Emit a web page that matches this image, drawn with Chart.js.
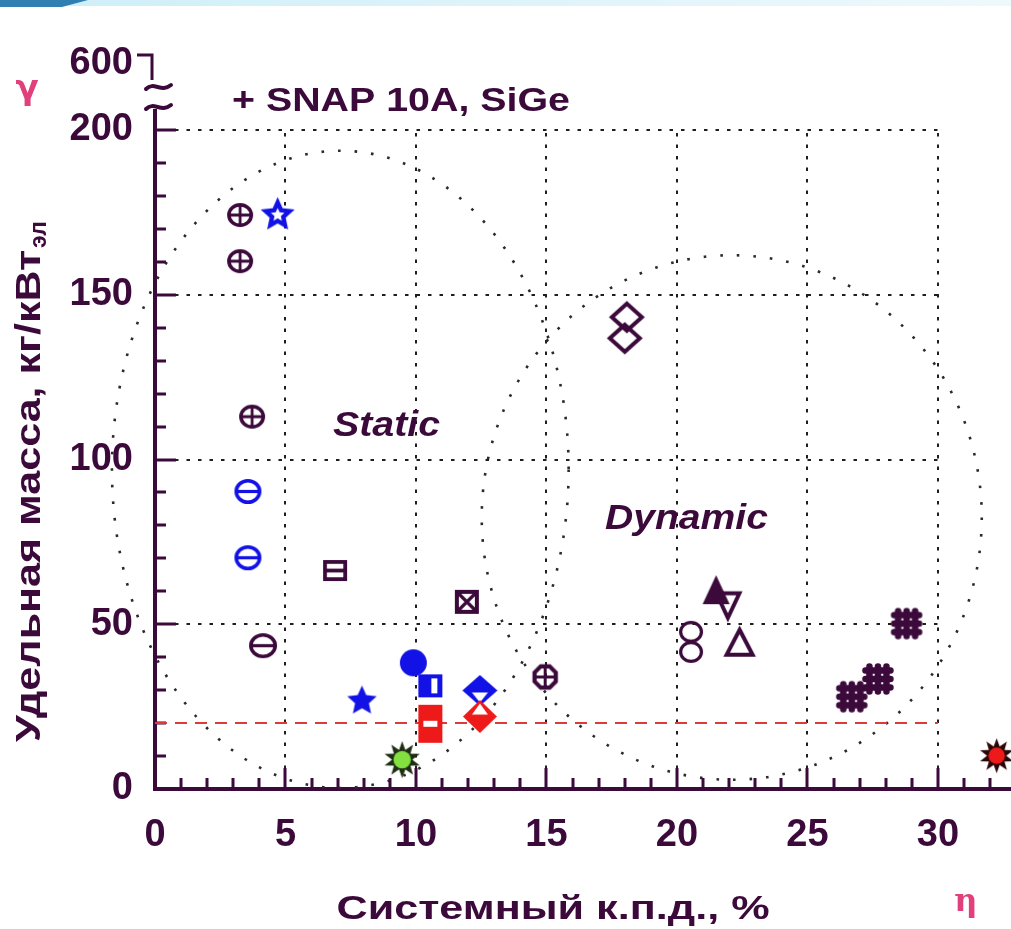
<!DOCTYPE html>
<html><head><meta charset="utf-8">
<script src="https://cdn.jsdelivr.net/npm/chart.js@4.4.1/dist/chart.umd.min.js"></script>
<style>html,body{margin:0;padding:0;background:#fff;}canvas{display:block;}</style>
</head><body>
<canvas id="c" width="1011" height="929"></canvas>
<script>
// ---------- data ----------
const xTickValues = [0, 5, 10, 15, 20, 25, 30];
const yTickValues = [0, 50, 100, 150, 200];
const xGridValues = [5, 10, 15, 20, 25, 30];
const yGridValues = [50, 100, 150, 200];
const yBreakLabel = '600';

const circlePlusX = [3.26, 3.26, 3.72];
const circlePlusY = [174.2, 160.2, 113];
const octPlusX = [14.95];
const octPlusY = [34];
const blueOpenStarX = [4.7];
const blueOpenStarY = [174.2];
const blueCircleMinusX = [3.56, 3.56];
const blueCircleMinusY = [90.3, 70.2];
const darkCircleMinusX = [4.14];
const darkCircleMinusY = [43.5];
const squareMinusX = [6.9];
const squareMinusY = [66.3];
const squareCrossX = [11.95];
const squareCrossY = [56.8];
const blueStarX = [7.93];
const blueStarY = [26.7];
const blueDotX = [9.9];
const blueDotY = [38.3];
const blueHalfSquareX = [10.55];
const blueHalfSquareY = [31.3];
const redBarX = [10.55];
const redBarY = [19.8];
const blueDiamondX = [12.45];
const blueDiamondY = [29.9];
const redDiamondX = [12.45];
const redDiamondY = [22.0];
const greenBurstX = [9.47];
const greenBurstY = [8.9];
const redBurstX = [32.25];
const redBurstY = [10.1];
const openDiamondX = [18.08, 18.0];
const openDiamondY = [143.2, 136.8];
const filledTriX = [21.5];
const filledTriY = [60.5];
const triDownX = [21.95];
const triDownY = [55.9];
const triUpX = [22.4];
const triUpY = [44.4];
const openCircleX = [20.54, 20.54];
const openCircleY = [47.7, 41.6];
const hashX = [26.7, 27.7, 28.8];
const hashY = [28, 33.4, 50.2];
const limitLineX = [0, 30];
const limitLineY = [20, 20];

const staticZone = {cx: 7.1, cy: 97, rx: 8.75, ry: 96.7};
const dynamicZone = {cx: 22.1, cy: 82.4, rx: 9.58, ry: 79.6};

// ---------- styles ----------
const DARK = '#3b0a3b', BLUE = '#1212e6', RED = '#ee1a1a', GREEN = '#82e040', PINK = '#e0407c';
const FONT = "'Liberation Sans', Arial, sans-serif";

function makeMarker(w, h, fn) {
  const c = document.createElement('canvas');
  c.width = Math.ceil(w + 10); c.height = Math.ceil(h + 10);
  const g = c.getContext('2d');
  g.translate(c.width / 2, c.height / 2);
  fn(g, w / 2, h / 2);
  return c;
}
function starPath(g, n, ro, ri, rot) {
  g.beginPath();
  for (let i = 0; i < 2 * n; i++) {
    const r = i % 2 ? ri : ro;
    const a = -Math.PI / 2 + i * Math.PI / n + (rot || 0);
    const px = Math.cos(a) * r, py = Math.sin(a) * r;
    i ? g.lineTo(px, py) : g.moveTo(px, py);
  }
  g.closePath();
}
const mCirclePlus = makeMarker(26, 24, (g, a, b) => {
  g.strokeStyle = DARK; g.lineWidth = 3.6;
  g.beginPath(); g.ellipse(0, 0, a - 1.8, b - 1.8, 0, 0, Math.PI * 2); g.stroke();
  g.lineWidth = 2.8; g.beginPath(); g.moveTo(-a + 2, 0); g.lineTo(a - 2, 0); g.moveTo(0, -b + 2); g.lineTo(0, b - 2); g.stroke();
});
const mOctPlus = makeMarker(27, 27, (g, a, b) => {
  g.strokeStyle = DARK; g.lineWidth = 4.2;
  g.beginPath();
  for (let i = 0; i < 8; i++) { const t = Math.PI / 8 + i * Math.PI / 4; const px = Math.cos(t) * (a - 2), py = Math.sin(t) * (b - 2); i ? g.lineTo(px, py) : g.moveTo(px, py); }
  g.closePath(); g.stroke();
  g.lineWidth = 3; g.beginPath(); g.moveTo(-a + 3, 0); g.lineTo(a - 3, 0); g.moveTo(0, -b + 3); g.lineTo(0, b - 3); g.stroke();
});
function circleMinus(color, w, h) {
  return makeMarker(w, h, (g, a, b) => {
    g.strokeStyle = color; g.lineWidth = 3.6;
    g.beginPath(); g.ellipse(0, 0, a - 1.8, b - 1.8, 0, 0, Math.PI * 2); g.stroke();
    g.lineWidth = 3.2; g.beginPath(); g.moveTo(-a + 2, 0); g.lineTo(a - 2, 0); g.stroke();
  });
}
const mBlueCircleMinus = circleMinus(BLUE, 27, 25);
const mDarkCircleMinus = circleMinus(DARK, 28, 25);
const mSquareMinus = makeMarker(24, 21, (g, a, b) => {
  g.strokeStyle = DARK; g.lineWidth = 3.8;
  g.strokeRect(-a + 1.9, -b + 1.9, 2 * a - 3.8, 2 * b - 3.8);
  g.beginPath(); g.moveTo(-a + 2, 0); g.lineTo(a - 2, 0); g.stroke();
});
const mSquareCross = makeMarker(24, 24, (g, a, b) => {
  g.fillStyle = DARK; g.fillRect(-a, -b, 2 * a, 2 * b);
  g.fillStyle = '#fff'; g.fillRect(-a + 4, -b + 4, 2 * a - 8, 2 * b - 8);
  g.strokeStyle = DARK; g.lineWidth = 3.2;
  g.beginPath(); g.moveTo(-a + 3, -b + 3); g.lineTo(a - 3, b - 3); g.moveTo(a - 3, -b + 3); g.lineTo(-a + 3, b - 3); g.stroke();
});
const mBlueOpenStar = makeMarker(29, 29, (g, a, b) => {
  g.strokeStyle = BLUE; g.lineWidth = 4.4; g.lineJoin = 'miter';
  starPath(g, 5, a - 2, (a - 2) * 0.47); g.stroke();
});
const mBlueStar = makeMarker(31, 31, (g, a, b) => {
  g.fillStyle = BLUE; starPath(g, 5, a, a * 0.47); g.fill();
});
const mBlueDot = makeMarker(27, 27, (g, a, b) => {
  g.fillStyle = BLUE; g.beginPath(); g.ellipse(0, 0, a, b, 0, 0, Math.PI * 2); g.fill();
});
const mBlueHalfSquare = makeMarker(24, 23, (g, a, b) => {
  g.fillStyle = BLUE; g.fillRect(-a, -b, 2 * a, 2 * b);
  g.fillStyle = '#fff'; g.fillRect(1, -b + 4, 6, 2 * b - 8);
});
const mRedBar = makeMarker(24, 38, (g, a, b) => {
  g.fillStyle = RED; g.fillRect(-a, -b, 2 * a, 2 * b);
  g.fillStyle = '#fff'; g.fillRect(-7, -3, 14, 6);
});
const mBlueDiamond = makeMarker(35, 31, (g, a, b) => {
  g.fillStyle = BLUE; g.beginPath(); g.moveTo(0, -b); g.lineTo(a, 0); g.lineTo(0, b); g.lineTo(-a, 0); g.closePath(); g.fill();
  g.fillStyle = '#fff'; g.beginPath(); g.moveTo(-8, 2); g.lineTo(8, 2); g.lineTo(0, 12); g.closePath(); g.fill();
});
const mRedDiamond = makeMarker(34, 33, (g, a, b) => {
  g.fillStyle = RED; g.beginPath(); g.moveTo(0, -b); g.lineTo(a, 0); g.lineTo(0, b); g.lineTo(-a, 0); g.closePath(); g.fill();
  g.fillStyle = '#fff'; g.beginPath(); g.moveTo(0, -13); g.lineTo(8, -2); g.lineTo(-8, -2); g.closePath(); g.fill();
});
function burst(center, spikes, w) {
  return makeMarker(w, w, (g, a) => {
    g.fillStyle = spikes; starPath(g, 10, a, a * 0.55); g.fill();
    g.fillStyle = center; g.beginPath(); g.arc(0, 0, a * 0.47, 0, Math.PI * 2); g.fill();
  });
}
const mGreenBurst = burst(GREEN, '#1e2e12', 37);
const mRedBurst = burst(RED, '#2a0606', 35);
const mOpenDiamond = makeMarker(34, 31, (g, a, b) => {
  g.strokeStyle = DARK; g.lineWidth = 4; g.lineJoin = 'miter';
  g.beginPath(); g.moveTo(0, -b + 2); g.lineTo(a - 2, 0); g.lineTo(0, b - 2); g.lineTo(-a + 2, 0); g.closePath(); g.stroke();
});
const mFilledTri = makeMarker(27, 29, (g, a, b) => {
  g.fillStyle = DARK; g.beginPath(); g.moveTo(0, -b); g.lineTo(a, b); g.lineTo(-a, b); g.closePath(); g.fill();
});
const mTriDown = makeMarker(28, 28, (g, a, b) => {
  g.strokeStyle = DARK; g.lineWidth = 4; g.lineJoin = 'miter';
  g.beginPath(); g.moveTo(-a + 2.5, -b + 2.5); g.lineTo(a - 2.5, -b + 2.5); g.lineTo(0, b - 1); g.closePath(); g.stroke();
});
const mTriUp = makeMarker(31, 28, (g, a, b) => {
  g.strokeStyle = DARK; g.lineWidth = 4; g.lineJoin = 'miter';
  g.beginPath(); g.moveTo(0, -b + 1); g.lineTo(a - 2.5, b - 2); g.lineTo(-a + 2.5, b - 2); g.closePath(); g.stroke();
});
const mOpenCircle = makeMarker(24, 22, (g, a, b) => {
  g.strokeStyle = DARK; g.lineWidth = 3.2;
  g.beginPath(); g.ellipse(0, 0, a - 1.6, b - 1.6, 0, 0, Math.PI * 2); g.stroke();
});
const mHash = makeMarker(32, 32, (g, a, b) => {
  g.strokeStyle = DARK; g.lineWidth = 6.5; g.lineCap = 'round';
  g.beginPath();
  for (const k of [-8.5, 0, 8.5]) {
    g.moveTo(k, -b + 3.5); g.lineTo(k, b - 3.5);
    g.moveTo(-a + 3.5, k); g.lineTo(a - 3.5, k);
  }
  g.stroke();
});

function pts(xs, ys) { return xs.map((x, i) => ({x, y: ys[i]})); }
function ds(xs, ys, marker) {
  return {data: pts(xs, ys), pointStyle: marker, pointRadius: 10, pointHoverRadius: 10, clip: false, order: 0};
}

// ---------- helpers ----------
function stretchText(ctx, txt, x, y, w, font, color, align) {
  ctx.save();
  ctx.font = font; ctx.fillStyle = color; ctx.textBaseline = 'middle'; ctx.textAlign = 'left';
  const m = ctx.measureText(txt).width;
  const sx = w / m;
  const x0 = align === 'center' ? x - w / 2 : align === 'right' ? x - w : x;
  ctx.translate(x0, y); ctx.scale(sx, 1); ctx.fillText(txt, 0, 0);
  ctx.restore();
}

const decor = {
  id: 'decor',
  beforeDraw(chart) {
    const ctx = chart.ctx;
    ctx.save();
    ctx.fillStyle = '#fff'; ctx.fillRect(0, 0, chart.width, chart.height);
    const gr = ctx.createLinearGradient(0, 0, chart.width, 0);
    gr.addColorStop(0, '#cdeef8'); gr.addColorStop(1, '#eef9fc');
    ctx.fillStyle = gr; ctx.fillRect(0, 0, chart.width, 6);
    ctx.fillStyle = '#2f7fb2';
    ctx.beginPath(); ctx.moveTo(0, 0); ctx.lineTo(88, 0); ctx.lineTo(62, 7); ctx.lineTo(0, 7); ctx.closePath(); ctx.fill();
    ctx.restore();
  },
  beforeDatasetsDraw(chart) {
    const {ctx, scales: {x: xs, y: ys}} = chart;
    ctx.save();
    // grid
    ctx.strokeStyle = '#1e1e1e'; ctx.lineWidth = 2; ctx.setLineDash([3.5, 8]);
    for (const v of xGridValues) {
      const px = Math.round(xs.getPixelForValue(v));
      ctx.beginPath(); ctx.moveTo(px, ys.getPixelForValue(0) - 20); ctx.lineTo(px, ys.getPixelForValue(200)); ctx.stroke();
    }
    for (const v of yGridValues) {
      const py = Math.round(ys.getPixelForValue(v));
      ctx.beginPath(); ctx.moveTo(xs.getPixelForValue(0) + 20, py); ctx.lineTo(xs.getPixelForValue(30), py); ctx.stroke();
    }
    // zone ellipses
    ctx.strokeStyle = '#2a2a2a'; ctx.lineWidth = 2.6; ctx.setLineDash([2.6, 14]);
    for (const z of [staticZone, dynamicZone]) {
      const cx = xs.getPixelForValue(z.cx), cy = ys.getPixelForValue(z.cy);
      const rx = xs.getPixelForValue(z.cx + z.rx) - cx, ry = cy - ys.getPixelForValue(z.cy + z.ry);
      ctx.beginPath(); ctx.ellipse(cx, cy, rx, ry, 0, 0, Math.PI * 2); ctx.stroke();
    }
    ctx.setLineDash([]);
    // inward ticks
    ctx.strokeStyle = DARK; ctx.lineWidth = 3;
    const x0 = xs.getPixelForValue(0), y0 = ys.getPixelForValue(0);
    ctx.beginPath();
    for (let v = 1; v <= 32; v++) {
      const px = Math.round(xs.getPixelForValue(v)) ;
      const len = v % 5 === 0 ? 21 : 11;
      ctx.moveTo(px, y0); ctx.lineTo(px, y0 - len);
    }
    for (let v = 10; v <= 200; v += 10) {
      const py = Math.round(ys.getPixelForValue(v));
      const len = v % 50 === 0 ? 21 : 11;
      ctx.moveTo(x0, py); ctx.lineTo(x0 + len, py);
    }
    ctx.stroke();
    ctx.restore();
  },
  afterDraw(chart) {
    const {ctx, chartArea: ca, scales: {x: xs, y: ys}} = chart;
    ctx.save();
    const ax = ca.left, top = ca.top;
    // axis extension and break marks
    ctx.strokeStyle = DARK; ctx.lineWidth = 4;
    ctx.beginPath(); ctx.moveTo(ax, top + 2); ctx.lineTo(ax, top - 21); ctx.stroke();
    ctx.lineWidth = 4; ctx.lineCap = 'round';
    for (const yy of [top - 23, top - 43]) {
      ctx.beginPath(); ctx.moveTo(ax - 9, yy + 2);
      ctx.bezierCurveTo(ax - 1, yy - 6, ax + 6, yy + 6, ax + 16, yy - 2); ctx.stroke();
    }
    ctx.lineCap = 'butt'; ctx.lineWidth = 3;
    ctx.beginPath(); ctx.moveTo(ax - 18, top - 75); ctx.lineTo(ax - 3, top - 75); ctx.lineTo(ax - 3, top - 50); ctx.stroke();
    ctx.font = 'bold 38px ' + FONT; ctx.fillStyle = DARK; ctx.textAlign = 'right'; ctx.textBaseline = 'middle';
    ctx.fillText(yBreakLabel, ax - 22, top - 66);
    // greek symbols
    ctx.fillStyle = PINK; ctx.textAlign = 'center';
    ctx.font = "bold 34px 'DejaVu Sans', sans-serif";
    ctx.fillText('γ', 27, 90);
    ctx.font = "bold 32px 'DejaVu Serif', serif";
    ctx.fillText('η', 966, 903);
    // annotations
    stretchText(ctx, '+ SNAP 10A, SiGe', xs.getPixelForValue(2.95), ys.getPixelForValue(208.5), 338, 'bold 34px ' + FONT, DARK, 'left');
    stretchText(ctx, 'Static', xs.getPixelForValue(6.82), ys.getPixelForValue(110), 107, 'italic bold 35px ' + FONT, DARK, 'left');
    stretchText(ctx, 'Dynamic', xs.getPixelForValue(17.24), ys.getPixelForValue(81.8), 163, 'italic bold 35px ' + FONT, DARK, 'left');
    // x title
    stretchText(ctx, 'Системный к.п.д., %', 553, 910, 433, 'bold 34px ' + FONT, DARK, 'center');
    // y title with subscript
    ctx.save();
    ctx.translate(30, 742); ctx.rotate(-Math.PI / 2);
    stretchText(ctx, 'Удельная масса, кг/кВт', 0, 0, 492, 'bold 35px ' + FONT, DARK, 'left');
    ctx.font = 'bold 23px ' + FONT; ctx.fillStyle = DARK; ctx.textAlign = 'left'; ctx.textBaseline = 'middle';
    ctx.fillText('эл', 494, 10);
    ctx.restore();
    ctx.restore();
  }
};

const tickFont = {family: FONT, size: 38, weight: 'bold'};
new Chart(document.getElementById('c'), {
  type: 'scatter',
  data: {
    datasets: [
      ds(redBarX, redBarY, mRedBar),
      ds(redDiamondX, redDiamondY, mRedDiamond),
      ds(blueDiamondX, blueDiamondY, mBlueDiamond),
      ds(blueHalfSquareX, blueHalfSquareY, mBlueHalfSquare),
      ds(blueDotX, blueDotY, mBlueDot),
      ds(blueStarX, blueStarY, mBlueStar),
      ds(greenBurstX, greenBurstY, mGreenBurst),
      ds(redBurstX, redBurstY, mRedBurst),
      ds(circlePlusX, circlePlusY, mCirclePlus),
      ds(octPlusX, octPlusY, mOctPlus),
      ds(blueOpenStarX, blueOpenStarY, mBlueOpenStar),
      ds(blueCircleMinusX, blueCircleMinusY, mBlueCircleMinus),
      ds(darkCircleMinusX, darkCircleMinusY, mDarkCircleMinus),
      ds(squareMinusX, squareMinusY, mSquareMinus),
      ds(squareCrossX, squareCrossY, mSquareCross),
      ds(openDiamondX, openDiamondY, mOpenDiamond),
      ds(filledTriX, filledTriY, mFilledTri),
      ds(triDownX, triDownY, mTriDown),
      ds(triUpX, triUpY, mTriUp),
      ds(openCircleX, openCircleY, mOpenCircle),
      ds(hashX, hashY, mHash),
      {type: 'line', data: pts(limitLineX, limitLineY), showLine: true, borderColor: '#d83c3c', borderWidth: 2,
       borderDash: [12, 8], pointRadius: 0, fill: false, order: 10}
    ]
  },
  options: {
    responsive: false, animation: false, events: [],
    layout: {autoPadding: false, padding: {top: 130, left: 0, right: 0, bottom: 0}},
    plugins: {legend: {display: false}, tooltip: {enabled: false}},
    scales: {
      x: {
        type: 'linear', min: 0, max: 32.8,
        afterFit: s => { s.height = 140; s.paddingLeft = 0; s.paddingRight = 0; },
        afterBuildTicks: s => { s.ticks = xTickValues.map(v => ({value: v})); },
        grid: {display: false, drawTicks: false},
        border: {display: true, width: 4, color: DARK},
        ticks: {font: tickFont, color: DARK, padding: 24, maxRotation: 0, autoSkip: false, includeBounds: false}
      },
      y: {
        type: 'linear', min: 0, max: 200,
        afterFit: s => { s.width = 155; },
        afterBuildTicks: s => { s.ticks = yTickValues.map(v => ({value: v})); },
        grid: {display: false, drawTicks: false},
        border: {display: true, width: 4, color: DARK},
        ticks: {font: tickFont, color: DARK, padding: 22, autoSkip: false, includeBounds: false}
      }
    }
  },
  plugins: [decor]
});
</script>
</body></html>
